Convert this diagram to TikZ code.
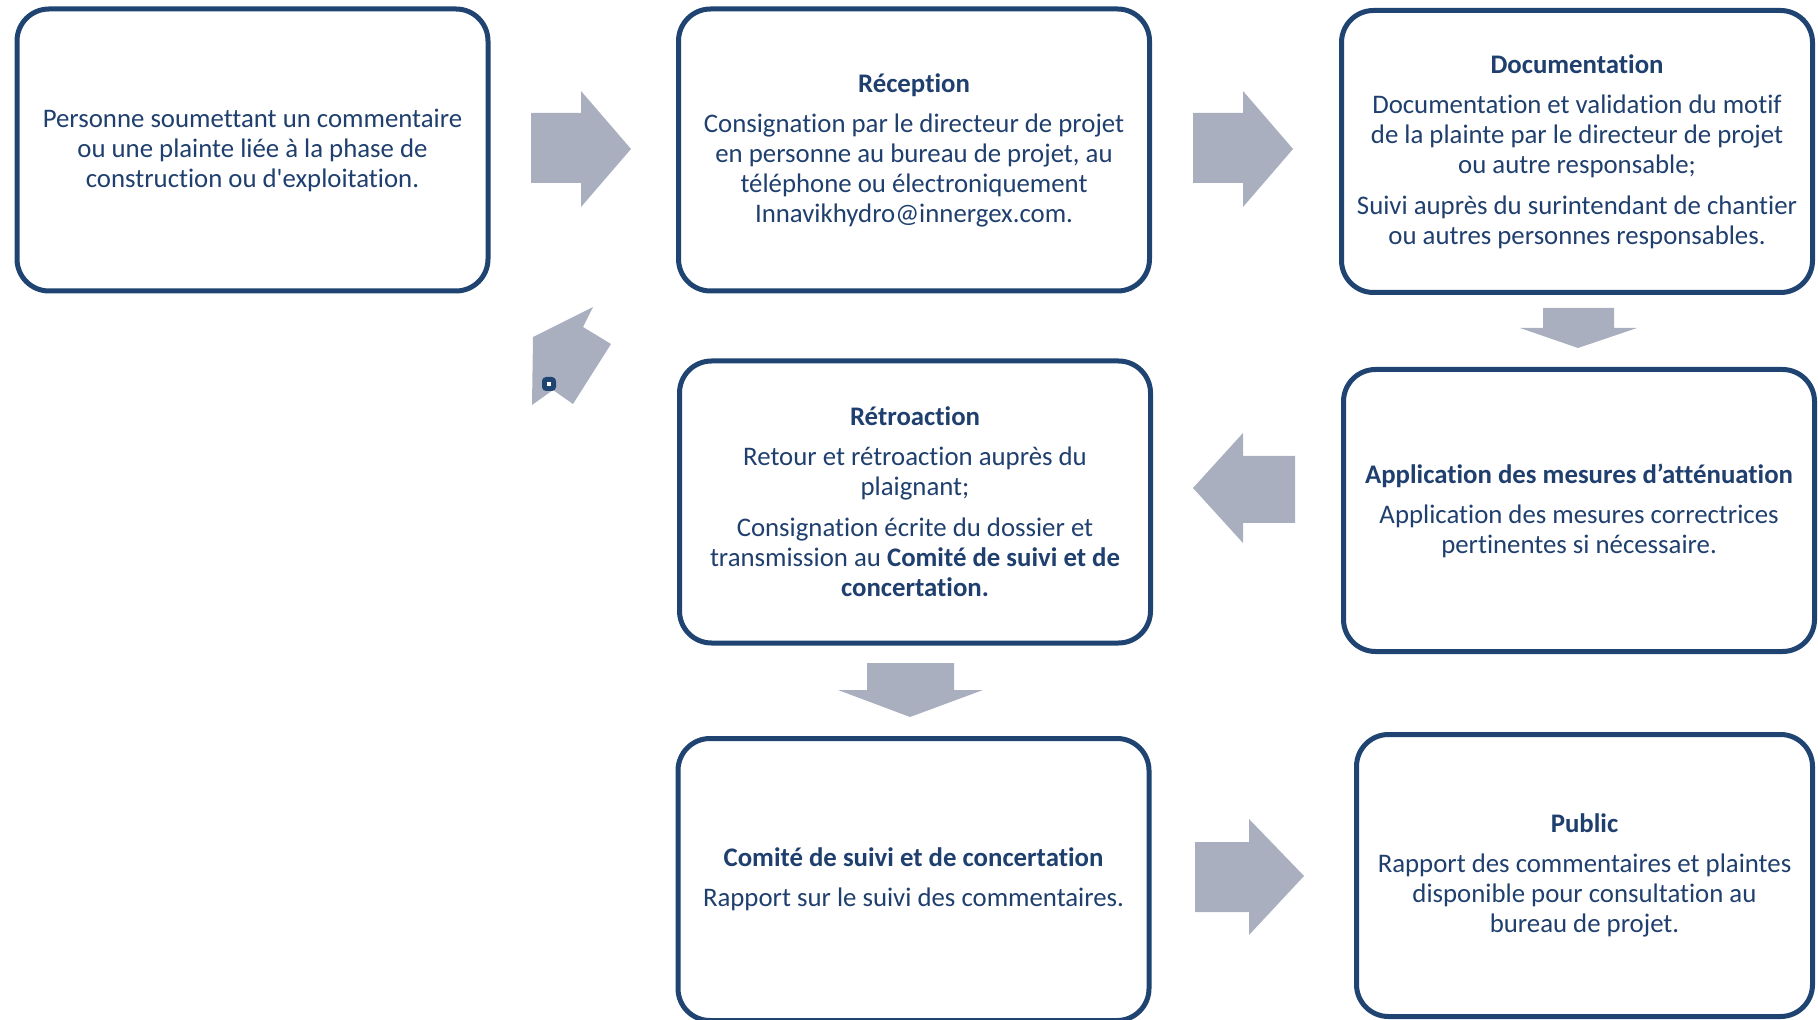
\documentclass[tikz,border=0pt]{standalone}
\usepackage{fontspec}
\newfontfamily\carlito{Carlito}[Ligatures=NoCommon]
\definecolor{boxnavy}{HTML}{1F4471}
\definecolor{txtnavy}{HTML}{1F3F6E}
\definecolor{arrowgray}{HTML}{A9AFBE}

\begin{document}
\begin{tikzpicture}[
  x=0.5pt, y=-0.5pt,
  box/.style={draw=boxnavy, line width=2.5pt, rounded corners=16pt, fill=white, minimum width=235.5pt, minimum height=141pt, inner sep=0pt, align=center, text=txtnavy, font=\carlito\fontsize{13.4}{15}\selectfont},
  garrow/.style={fill=arrowgray, draw=none},
  handle/.style={fill=boxnavy, draw=none, rounded corners=2pt}
]
  \useasboundingbox (0,0) rectangle (1818,1020);

  % Ligne 1 : plaignant, reception, documentation
  \node[box] (person) at (252.5,150) {Personne soumettant un commentaire\\ou une plainte liée à la phase de\\construction ou d'exploitation.};
  \node[box] (recv) at (914,150) {\textbf{Réception}\\[5pt]Consignation par le directeur de projet\\en personne au bureau de projet, au\\téléphone ou électroniquement\\Innavikhydro@innergex.com.};
  \node[box] (doc) at (1577,151.5) {\textbf{Documentation}\\[5pt]Documentation et validation du motif\\de la plainte par le directeur de projet\\ou autre responsable;\\[5.5pt]Suivi auprès du surintendant de chantier\\ou autres personnes responsables.};

  % Ligne 2 : retroaction, attenuation
  \node[box] (retro) at (915,502) {\textbf{Rétroaction}\\[5pt]Retour et rétroaction auprès du\\plaignant;\\[5.5pt]Consignation écrite du dossier et\\transmission au \textbf{Comité de suivi et de}\\\textbf{concertation.}};
  \node[box] (appl) at (1579,510.5) {\textbf{Application des mesures d’atténuation}\\[5pt]Application des mesures correctrices\\pertinentes si nécessaire.};

  % Ligne 3 : comite, public
  \node[box] (comite) at (913.5,879.5) {\textbf{Comité de suivi et de concertation}\\[5pt]Rapport sur le suivi des commentaires.};
  \node[box, minimum width=228pt] (public) at (1584.5,875.5) {\textbf{Public}\\[5pt]Rapport des commentaires et plaintes\\disponible pour consultation au\\bureau de projet.};

  % Fleches pleines
  \fill[garrow] (531,113) -- (581,113) -- (581,91) -- (631,149) -- (581,207) -- (581,183) -- (531,183) -- cycle;
  \fill[garrow] (1193,113) -- (1243,113) -- (1243,91) -- (1293,149) -- (1243,207) -- (1243,183) -- (1193,183) -- cycle;
  \fill[garrow] (1543,308) -- (1614,308) -- (1614,328) -- (1637,328) -- (1578,348) -- (1520,328) -- (1543,328) -- cycle;
  \fill[garrow] (1295,456) -- (1243,456) -- (1243,433) -- (1193,488) -- (1243,543) -- (1243,523) -- (1295,523) -- cycle;
  \fill[garrow] (867,663) -- (954,663) -- (954,690) -- (983,690) -- (910,717) -- (838,690) -- (867,690) -- cycle;
  \fill[garrow] (1195,842) -- (1249,842) -- (1249,819) -- (1304,876) -- (1249,935) -- (1249,912) -- (1195,912) -- cycle;

  % Fleche de retour vers le plaignant
  \fill[garrow] (533,337) -- (593,307) -- (583,327) -- (611,344) -- (573,404) -- (553,390) -- (532,405) -- cycle;
  \fill[handle] (542,377) rectangle (556,391);
  \fill[white] (547,382) rectangle (551,386);
\end{tikzpicture}
\end{document}
